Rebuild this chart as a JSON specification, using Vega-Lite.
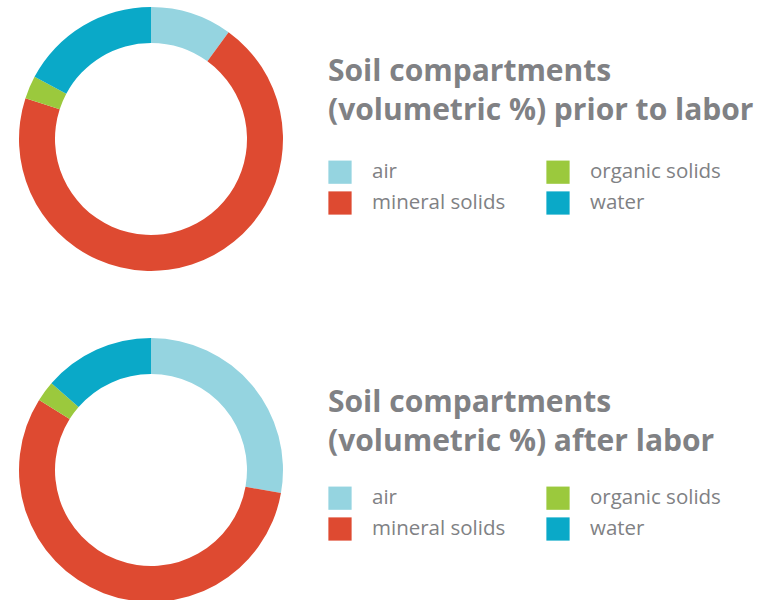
{
  "$schema": "https://vega.github.io/schema/vega-lite/v6.json",
  "padding": {"left": 19, "top": 7, "right": 0, "bottom": 0},
  "spacing": 67,
  "background": "white",
  "config": {
    "view": {"stroke": null},
    "font": "Open Sans",
    "legend": {
      "orient": "none",
      "columns": 2,
      "symbolType": "square",
      "symbolSize": 540,
      "symbolStrokeWidth": 0,
      "symbolOpacity": 1,
      "labelFont": "Open Sans",
      "labelFontSize": 20.5,
      "labelColor": "#808184",
      "labelOffset": 20,
      "rowPadding": 7,
      "columnPadding": 40,
      "titleFont": "Open Sans",
      "titleFontSize": 30,
      "titleFontWeight": "bold",
      "titleColor": "#808184",
      "titleLineHeight": 39,
      "titleAnchor": "start",
      "titleBaseline": "top",
      "titleLimit": 600
    }
  },
  "resolve": {"scale": {"color": "independent"}, "legend": {"color": "independent"}},
  "vconcat": [
    {
      "width": 264,
      "height": 264,
      "data": {"values": [
        {"compartment": "air", "value": 10, "ord": 1},
        {"compartment": "mineral solids", "value": 70, "ord": 2},
        {"compartment": "organic solids", "value": 2.8, "ord": 3},
        {"compartment": "water", "value": 17.2, "ord": 4}
      ]},
      "mark": {"type": "arc", "outerRadius": 132, "innerRadius": 96, "stroke": null},
      "encoding": {
        "theta": {"field": "value", "type": "quantitative", "stack": true},
        "order": {"field": "ord", "type": "quantitative"},
        "color": {
          "field": "compartment",
          "type": "nominal",
          "scale": {
            "domain": ["air", "mineral solids", "organic solids", "water"],
            "range": ["#95d4e0", "#de4a31", "#9bc93d", "#0aa9c8"]
          },
          "legend": {
            "title": ["Soil compartments", "(volumetric %) prior to labor"],
            "legendX": 309,
            "legendY": 50,
            "titlePadding": 34
          }
        }
      }
    },
    {
      "width": 264,
      "height": 264,
      "data": {"values": [
        {"compartment": "air", "value": 27.8, "ord": 1},
        {"compartment": "mineral solids", "value": 56.1, "ord": 2},
        {"compartment": "organic solids", "value": 2.5, "ord": 3},
        {"compartment": "water", "value": 13.6, "ord": 4}
      ]},
      "mark": {"type": "arc", "outerRadius": 132, "innerRadius": 96, "stroke": null},
      "encoding": {
        "theta": {"field": "value", "type": "quantitative", "stack": true},
        "order": {"field": "ord", "type": "quantitative"},
        "color": {
          "field": "compartment",
          "type": "nominal",
          "scale": {
            "domain": ["air", "mineral solids", "organic solids", "water"],
            "range": ["#95d4e0", "#de4a31", "#9bc93d", "#0aa9c8"]
          },
          "legend": {
            "title": ["Soil compartments", "(volumetric %) after labor"],
            "legendX": 309,
            "legendY": 50,
            "titlePadding": 29
          }
        }
      }
    }
  ]
}
